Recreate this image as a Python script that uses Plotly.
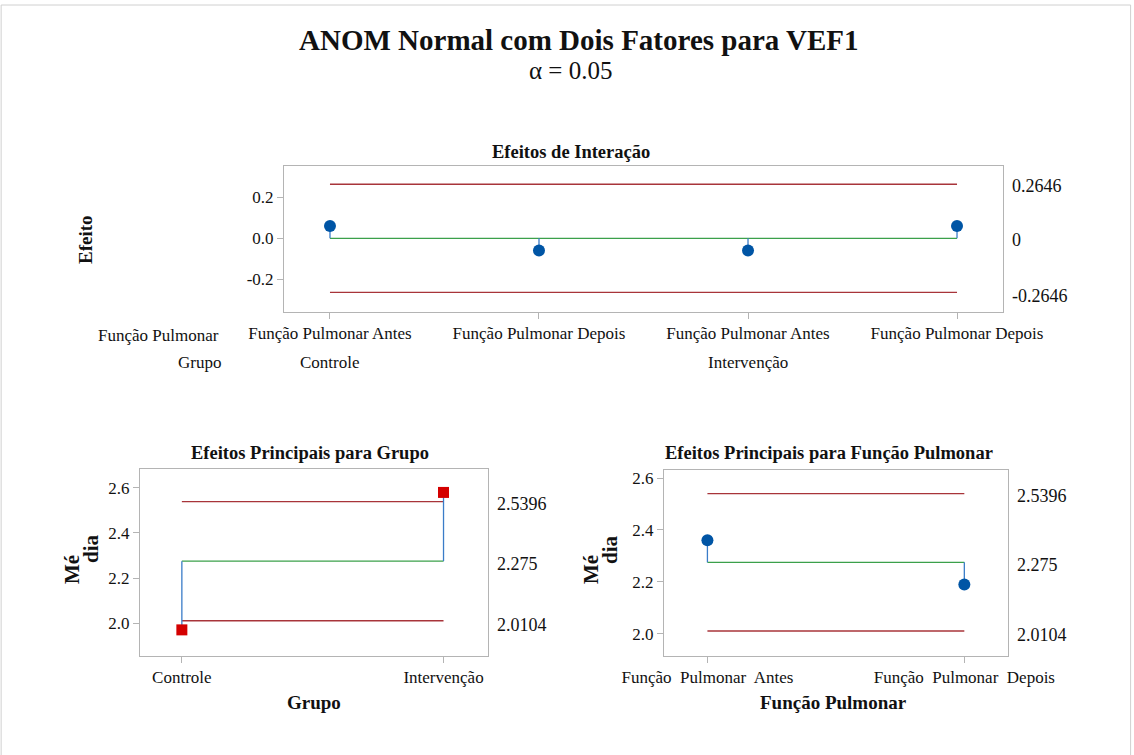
import plotly.graph_objects as go

# ---------------- data ----------------
inter_labels = ["Função Pulmonar Antes", "Função Pulmonar Depois",
                "Função Pulmonar Antes", "Função Pulmonar Depois"]
inter_groups = ["Controle", "Intervenção"]
inter_effects = [0.060, -0.060, -0.060, 0.060]
inter_center = 0.0
inter_udl = 0.2646
inter_ldl = -0.2646
inter_limit_text = ["0.2646", "0", "-0.2646"]

grupo_labels = ["Controle", "Intervenção"]
grupo_means = [1.970, 2.580]

funcao_labels = ["Função\u00a0 Pulmonar\u00a0 Antes", "Função\u00a0 Pulmonar\u00a0 Depois"]
funcao_means = [2.360, 2.190]

main_center = 2.275
main_udl = 2.5396
main_ldl = 2.0104
main_limit_text = ["2.5396", "2.275", "2.0104"]

# ---------------- style ----------------
FONT = "Liberation Serif"
RED = "#A8343A"
GREEN = "#3BA04A"
STEM = "#3A7CC8"
PT = "#0055A5"
SQ = "#D40000"
AXC = "#B4B4B4"
TICK_SIZE = 17
W, H = 1134, 755


def px_x(p):
    return p / W


def px_y(p):
    return 1 - p / H


fig = go.Figure()


def add_panel(xa, ya, xvals, yvals, center, udl, ldl, marker):
    fig.add_trace(go.Scatter(x=[xvals[0], xvals[-1]], y=[udl, udl], mode="lines",
                             line=dict(color=RED, width=1.3), xaxis=xa, yaxis=ya,
                             showlegend=False, hoverinfo="skip"))
    fig.add_trace(go.Scatter(x=[xvals[0], xvals[-1]], y=[ldl, ldl], mode="lines",
                             line=dict(color=RED, width=1.3), xaxis=xa, yaxis=ya,
                             showlegend=False, hoverinfo="skip"))
    fig.add_trace(go.Scatter(x=[xvals[0], xvals[-1]], y=[center, center], mode="lines",
                             line=dict(color=GREEN, width=1.3), xaxis=xa, yaxis=ya,
                             showlegend=False, hoverinfo="skip"))
    for xi, v in zip(xvals, yvals):
        fig.add_trace(go.Scatter(x=[xi, xi], y=[center, v], mode="lines",
                                 line=dict(color=STEM, width=1.3), xaxis=xa, yaxis=ya,
                                 showlegend=False, hoverinfo="skip"))
    fig.add_trace(go.Scatter(x=xvals, y=yvals, mode="markers", marker=marker,
                             xaxis=xa, yaxis=ya, showlegend=False))


xs = list(range(len(inter_effects)))
gx = list(range(len(grupo_means)))
fx = list(range(len(funcao_means)))

add_panel("x", "y", xs, inter_effects, inter_center, inter_udl, inter_ldl,
          dict(color=PT, size=12, symbol="circle"))
add_panel("x2", "y2", gx, grupo_means, main_center, main_udl, main_ldl,
          dict(color=SQ, size=11, symbol="square"))
add_panel("x3", "y3", fx, funcao_means, main_center, main_udl, main_ldl,
          dict(color=PT, size=12, symbol="circle"))

axis_common = dict(showline=True, linecolor=AXC, linewidth=1, mirror=True,
                   showgrid=False, zeroline=False, ticks="outside", tickcolor=AXC,
                   ticklen=6, automargin=False,
                   tickfont=dict(family=FONT, size=TICK_SIZE, color="#111"))

fig.update_layout(
    width=W, height=H,
    margin=dict(l=0, r=0, t=0, b=0, autoexpand=False),
    paper_bgcolor="white", plot_bgcolor="white",
    font=dict(family=FONT, color="#111"),
    xaxis=dict(domain=[px_x(284), px_x(1003)], range=[-0.22, 3.22], anchor="y",
               tickvals=xs, ticktext=inter_labels, **axis_common),
    yaxis=dict(domain=[px_y(312), px_y(166)], range=[-0.361, 0.354], anchor="x",
               tickvals=[-0.2, 0.0, 0.2], ticktext=["-0.2", "0.0", "0.2"], **axis_common),
    xaxis2=dict(domain=[px_x(140), px_x(488)], range=[-0.16, 1.17], anchor="y2",
                tickvals=gx, ticktext=grupo_labels, **axis_common),
    yaxis2=dict(domain=[px_y(656), px_y(469)], range=[1.854, 2.684], anchor="x2",
                tickvals=[2.0, 2.2, 2.4, 2.6], ticktext=["2.0", "2.2", "2.4", "2.6"], **axis_common),
    xaxis3=dict(domain=[px_x(664), px_x(1008)], range=[-0.169, 1.17], anchor="y3",
                tickvals=fx, ticktext=funcao_labels, **axis_common),
    yaxis3=dict(domain=[px_y(656), px_y(470)], range=[1.914, 2.631], anchor="x3",
                tickvals=[2.0, 2.2, 2.4, 2.6], ticktext=["2.0", "2.2", "2.4", "2.6"], **axis_common),
)

ann = []


def paper_text(text, xp, yp, size, bold=False, xanchor="center", angle=0):
    t = f"<b>{text}</b>" if bold else text
    ann.append(dict(text=t, x=px_x(xp), y=px_y(yp), xref="paper", yref="paper",
                    xanchor=xanchor, yanchor="middle", showarrow=False, textangle=angle,
                    font=dict(family=FONT, size=size, color="#111")))


paper_text("ANOM Normal com Dois Fatores para VEF1", 579, 40, 29, bold=True)
paper_text("α = 0.05", 570, 71, 25)
paper_text("Efeitos de Interação", 571, 152, 18.5, bold=True)
paper_text("Efeitos Principais para Grupo", 310, 453, 18.5, bold=True)
paper_text("Efeitos Principais para Função Pulmonar", 829, 453, 18.5, bold=True)
paper_text("Efeito", 85, 240, 19, bold=True, angle=-90)
paper_text("Mé", 72, 570, 21, bold=True, angle=-90)
paper_text("dia", 91, 549, 21, bold=True, angle=-90)
paper_text("Mé", 591, 570, 21, bold=True, angle=-90)
paper_text("dia", 610, 550, 21, bold=True, angle=-90)
paper_text("Grupo", 314, 702, 19, bold=True)
paper_text("Função Pulmonar", 833, 702, 19, bold=True)
paper_text("Função Pulmonar", 221, 335, TICK_SIZE, xanchor="right")
paper_text("Grupo", 223, 363, TICK_SIZE, xanchor="right")

# group labels under interaction panel (first level of each group)
for gi, g in enumerate(inter_groups):
    ann.append(dict(text=g, x=xs[gi * 2], y=px_y(363), xref="x", yref="paper",
                    xanchor="center", yanchor="middle", showarrow=False,
                    font=dict(family=FONT, size=TICK_SIZE, color="#111")))

# right-side limit labels
for val, txt, ys in zip([inter_udl, inter_center, inter_ldl], inter_limit_text, [-2, -2, -4]):
    ann.append(dict(text=txt, x=1, y=val, xref="x domain", yref="y", xanchor="left",
                    yanchor="middle", xshift=7, yshift=ys, showarrow=False,
                    font=dict(family=FONT, size=18, color="#111")))
for xa, ya in [("x2", "y2"), ("x3", "y3")]:
    for val, txt, ys in zip([main_udl, main_center, main_ldl], main_limit_text, [-2, -3, -4]):
        ann.append(dict(text=txt, x=1, y=val, xref=f"{xa} domain", yref=ya, xanchor="left",
                        yanchor="middle", xshift=7, yshift=ys, showarrow=False,
                        font=dict(family=FONT, size=18, color="#111")))

fig.update_layout(annotations=ann)

# thin outer frame
fig.add_shape(type="rect", xref="paper", yref="paper", x0=0.001, x1=0.997, y0=-0.01, y1=px_y(5),
              line=dict(color="#D0D0D0", width=1))

fig.write_html("out.html", config={"displayModeBar": False},
               post_script="document.body.style.margin='0';document.body.style.padding='0';"
                           "document.documentElement.style.overflow='hidden';")
